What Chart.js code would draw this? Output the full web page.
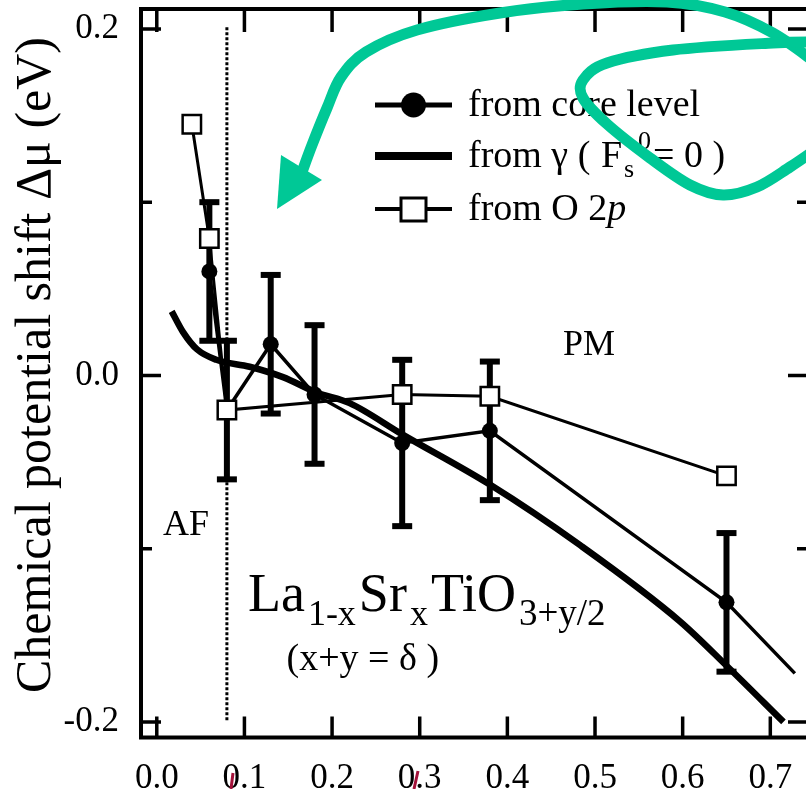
<!DOCTYPE html>
<html>
<head>
<meta charset="utf-8">
<script src="https://cdn.jsdelivr.net/npm/chart.js@4.4.1/dist/chart.umd.min.js"></script>
<style>
    html, body { margin: 0; padding: 0; background: #fff; overflow: hidden; }
    #wrap { position: relative; width: 812px; height: 789px; }
</style>
</head>
<body>
<div id="wrap"><canvas id="shiftChart"></canvas></div>
<script>
// chemical potential shift vs doping
var coreX = [0.06, 0.08, 0.13, 0.18, 0.28, 0.38, 0.65, 0.728];
var coreY = [0.060, -0.020, 0.018, -0.011, -0.039, -0.032, -0.131, -0.172];
var coreErr = [0.040, 0.040, 0.040, 0.040, 0.048, 0.040, 0.040, null];

var o2pX = [0.04, 0.06, 0.08, 0.28, 0.38, 0.65];
var o2pY = [0.145, 0.079, -0.020, -0.011, -0.012, -0.058];

var gammaX = [0.017, 0.03, 0.046, 0.068, 0.106, 0.144, 0.183, 0.22, 0.28, 0.38, 0.483, 0.597, 0.651, 0.715];
var gammaY = [0.037, 0.025, 0.015, 0.009, 0.005, -0.001, -0.010, -0.016, -0.034, -0.063, -0.098, -0.142, -0.168, -0.200];

var xTickValues = [0.0, 0.1, 0.2, 0.3, 0.4, 0.5, 0.6, 0.7];
var yTickValues = [-0.2, -0.1, 0.0, 0.1, 0.2];
var yTickLabels = ['-0.2', '', '0.0', '', '0.2'];

var afBoundary = 0.08;
var serif = '"Liberation Serif", "Times New Roman", "DejaVu Serif", serif';

function toPoints(xs, ys) {
    return xs.map(function (x, i) { return { x: x, y: ys[i] }; });
}

function font(size, style) {
    return (style || '') + ' ' + size + 'px ' + serif;
}

// draws pieces of text one after another, each with its own size and baseline shift
function drawRuns(ctx, x, y, runs, gap) {
    ctx.textAlign = 'left';
    ctx.textBaseline = 'alphabetic';
    runs.forEach(function (r) {
        ctx.font = font(r.size, r.style);
        var px = r.at !== undefined ? r.at : x;
        ctx.fillText(r.text, px, y + (r.dy || 0));
        x = px + ctx.measureText(r.text).width + (gap || 0);
    });
}

function smoothPath(ctx, pts) {
    ctx.beginPath();
    ctx.moveTo(pts[0][0], pts[0][1]);
    for (var i = 0; i < pts.length - 1; i++) {
        var p0 = pts[i - 1] || pts[i];
        var p1 = pts[i];
        var p2 = pts[i + 1];
        var p3 = pts[i + 2] || p2;
        ctx.bezierCurveTo(
            p1[0] + (p2[0] - p0[0]) / 6, p1[1] + (p2[1] - p0[1]) / 6,
            p2[0] - (p3[0] - p1[0]) / 6, p2[1] - (p3[1] - p1[1]) / 6,
            p2[0], p2[1]);
    }
    ctx.stroke();
}

var figureExtras = {
    id: 'figureExtras',
    beforeDatasetsDraw: function (chart) {
        var ctx = chart.ctx, xs = chart.scales.x, ys = chart.scales.y;
        ctx.save();

        // AF / PM boundary
        ctx.strokeStyle = '#000';
        ctx.lineWidth = 3;
        ctx.setLineDash([3, 2]);
        ctx.beginPath();
        ctx.moveTo(xs.getPixelForValue(afBoundary), ys.getPixelForValue(0.201));
        ctx.lineTo(xs.getPixelForValue(afBoundary), ys.getPixelForValue(-0.199));
        ctx.stroke();
        ctx.setLineDash([]);

        // error bars of the core level data
        ctx.lineWidth = 6;
        coreX.forEach(function (x, i) {
            if (coreErr[i] == null) return;
            var px = xs.getPixelForValue(x);
            var top = ys.getPixelForValue(coreY[i] + coreErr[i]);
            var bot = ys.getPixelForValue(coreY[i] - coreErr[i]);
            ctx.beginPath();
            ctx.moveTo(px, top);
            ctx.lineTo(px, bot);
            ctx.stroke();
            ctx.fillStyle = '#000';
            ctx.fillRect(px - 10, top - 3, 20, 6);
            ctx.fillRect(px - 10, bot - 3, 20, 6);
        });
        ctx.restore();
    },
    afterDatasetsDraw: function (chart) {
        var ctx = chart.ctx, a = chart.chartArea, xs = chart.scales.x, ys = chart.scales.y;
        ctx.save();
        ctx.strokeStyle = '#000';
        ctx.fillStyle = '#000';

        // frame and inward ticks
        ctx.lineWidth = 4;
        ctx.strokeRect(a.left, a.top, a.right - a.left, a.bottom - a.top);
        ctx.lineWidth = 3.5;
        xTickValues.forEach(function (v) {
            var px = xs.getPixelForValue(v);
            ctx.beginPath();
            ctx.moveTo(px, a.bottom); ctx.lineTo(px, a.bottom - 21);
            ctx.moveTo(px, a.top); ctx.lineTo(px, a.top + 23);
            ctx.stroke();
        });
        yTickValues.forEach(function (v, i) {
            var py = ys.getPixelForValue(v);
            var len = yTickLabels[i] ? 20 : 11;
            ctx.beginPath();
            ctx.moveTo(a.left, py); ctx.lineTo(a.left + len, py);
            ctx.moveTo(a.right, py); ctx.lineTo(a.right - len, py);
            ctx.stroke();
        });

        // y axis title
        ctx.save();
        ctx.translate(50, 365);
        ctx.rotate(-Math.PI / 2);
        ctx.font = font(50);
        ctx.textAlign = 'center';
        ctx.textBaseline = 'alphabetic';
        ctx.fillText('Chemical potential shift \u0394\u03bc (eV)', 0, 0);
        ctx.restore();

        // region labels
        ctx.font = font(36);
        ctx.textAlign = 'left';
        ctx.textBaseline = 'alphabetic';
        ctx.fillText('PM', xs.getPixelForValue(0.4635), ys.getPixelForValue(0.0115));
        ctx.fillText('AF', xs.getPixelForValue(0.007), ys.getPixelForValue(-0.092));

        // compound formula
        drawRuns(ctx, xs.getPixelForValue(0.104), ys.getPixelForValue(-0.1357), [
            { text: 'La', size: 54 },
            { text: '1-x', size: 36, dy: 14 },
            { text: 'Sr', size: 54 },
            { text: 'x', size: 36, dy: 14 },
            { text: 'TiO', size: 54 },
            { text: '3+y/2', size: 37, dy: 14 }
        ], 3);
        drawRuns(ctx, xs.getPixelForValue(0.148), ys.getPixelForValue(-0.170), [
            { text: '(x+y = \u03b4 )', size: 38 }
        ]);

        // legend
        var lx0 = 375, lx1 = 452, tx = 468;
        ctx.lineWidth = 5;
        ctx.beginPath(); ctx.moveTo(lx0, 105); ctx.lineTo(lx1, 105); ctx.stroke();
        ctx.beginPath(); ctx.arc((lx0 + lx1) / 2, 105, 12.5, 0, Math.PI * 2); ctx.fill();
        ctx.lineWidth = 8;
        ctx.beginPath(); ctx.moveTo(lx0, 156); ctx.lineTo(lx1, 156); ctx.stroke();
        ctx.lineWidth = 4;
        ctx.beginPath(); ctx.moveTo(lx0, 209); ctx.lineTo(lx1, 209); ctx.stroke();
        ctx.fillStyle = '#fff';
        ctx.lineWidth = 3;
        ctx.fillRect(401, 198, 25, 23);
        ctx.strokeRect(401, 198, 25, 23);
        ctx.fillStyle = '#000';
        drawRuns(ctx, tx, 116, [{ text: 'from core level', size: 38 }]);
        drawRuns(ctx, tx, 167, [
            { text: 'from \u03b3 (', size: 38 },
            { text: 'F', size: 38, at: 601 },
            { text: 's', size: 26, dy: 10, at: 624 },
            { text: '0', size: 26, dy: -18, at: 638 },
            { text: '= 0 )', size: 38, at: 653 }
        ]);
        drawRuns(ctx, tx, 220, [
            { text: 'from O 2', size: 38 },
            { text: 'p', size: 38, style: 'italic' }
        ]);
        ctx.restore();
    },
    afterDraw: function (chart) {
        var ctx = chart.ctx;
        ctx.save();
        // hand drawn marker strokes on top of the figure
        ctx.strokeStyle = '#00c896';
        ctx.fillStyle = '#00c896';
        ctx.lineWidth = 11;
        ctx.lineCap = 'round';
        ctx.lineJoin = 'round';
        smoothPath(ctx, [[302, 172], [312, 145], [327, 108], [341, 77], [366, 52], [417, 30],
            [500, 13], [583, 4], [667, 2], [725, 12], [773, 33], [815, 62]]);
        smoothPath(ctx, [[815, 42], [773, 43], [673, 50], [607, 63], [583, 80], [583, 98],
            [607, 124], [650, 158], [690, 185], [723, 195], [757, 187], [790, 167], [815, 150]]);
        ctx.beginPath();
        ctx.moveTo(281, 155); ctx.lineTo(322, 180); ctx.lineTo(277, 209); ctx.closePath();
        ctx.fill();

        ctx.strokeStyle = '#a3123a';
        ctx.lineWidth = 3;
        ctx.lineCap = 'butt';
        ctx.beginPath();
        ctx.moveTo(233, 773); ctx.lineTo(231, 789);
        ctx.moveTo(418, 771); ctx.lineTo(414, 789);
        ctx.stroke();
        ctx.restore();
    }
};

var shiftChart = new Chart(document.getElementById('shiftChart'), {
    type: 'line',
    data: {
        datasets: [{
            label: 'from O 2p',
            data: toPoints(o2pX, o2pY),
            borderColor: '#000',
            borderWidth: 3,
            pointStyle: 'rect',
            pointRadius: 13,
            pointBackgroundColor: '#fff',
            pointBorderColor: '#000',
            pointBorderWidth: 2.5
        }, {
            label: 'from core level',
            data: toPoints(coreX, coreY),
            borderColor: '#000',
            borderWidth: 3.5,
            pointStyle: 'circle',
            pointRadius: coreX.map(function (x, i) { return coreErr[i] == null ? 0 : 8; }),
            pointBackgroundColor: '#000',
            pointBorderWidth: 0
        }, {
            label: 'from gamma',
            data: toPoints(gammaX, gammaY),
            borderColor: '#000',
            borderWidth: 6.5,
            pointRadius: 0,
            cubicInterpolationMode: 'monotone'
        }]
    },
    options: {
        responsive: true,
        maintainAspectRatio: false,
        animation: false,
        events: [],
        layout: { autoPadding: false, padding: { left: 0, top: 9, right: 4, bottom: 0 } },
        plugins: {
            legend: { display: false },
            tooltip: { enabled: false }
        },
        scales: {
            x: {
                type: 'linear',
                min: -0.018,
                max: 0.743,
                grid: { display: false },
                border: { display: false },
                afterFit: function (scale) {
                    scale.height = 51.5;
                    scale.paddingLeft = 0;
                    scale.paddingRight = 0;
                },
                afterBuildTicks: function (scale) {
                    scale.ticks = xTickValues.map(function (v) { return { value: v }; });
                },
                ticks: {
                    autoSkip: false,
                    maxRotation: 0,
                    padding: 12,
                    color: '#000',
                    font: { family: serif, size: 35 },
                    callback: function (v) { return v.toFixed(1); }
                }
            },
            y: {
                type: 'linear',
                min: -0.209,
                max: 0.2115,
                grid: { display: false },
                border: { display: false },
                afterFit: function (scale) {
                    scale.width = 141;
                    scale.paddingTop = 0;
                    scale.paddingBottom = 0;
                },
                afterBuildTicks: function (scale) {
                    scale.ticks = yTickValues.map(function (v) { return { value: v }; });
                },
                ticks: {
                    autoSkip: false,
                    padding: 14,
                    color: '#000',
                    font: { family: serif, size: 35 },
                    callback: function (v, i) { return yTickLabels[i]; }
                }
            }
        }
    },
    plugins: [figureExtras]
});
</script>
</body>
</html>
